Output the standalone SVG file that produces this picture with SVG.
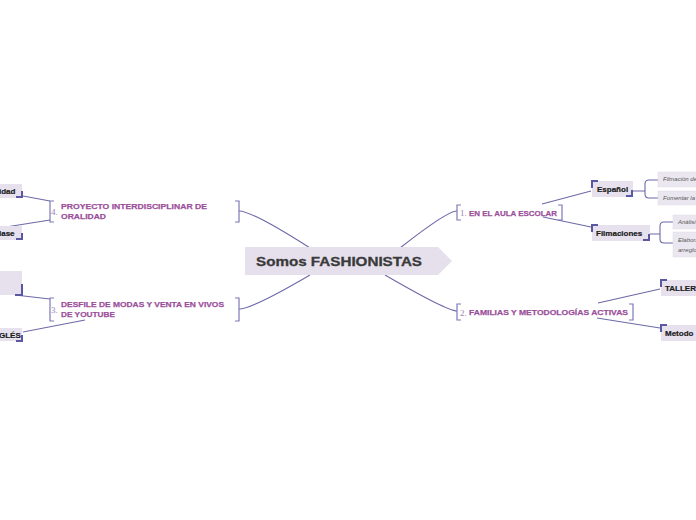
<svg xmlns="http://www.w3.org/2000/svg" width="696" height="520" viewBox="0 0 696 520">
<style>
.con{fill:none;stroke:#6d69a8;stroke-width:1.1}
.brk{fill:none;stroke:#7d79b6;stroke-width:1.2}
.cor{fill:none;stroke:#5b58a3;stroke-width:2}
.box{fill:#e7e1ee}
.leaf{fill:#ebe7f0;stroke:#e0dbe8;stroke-width:0.5}
.mt{font-family:"Liberation Sans",Arial,sans-serif;font-weight:bold;font-size:8px;fill:#9b4f9b;stroke:#9b4f9b;stroke-width:0.25}
.num{font-family:"Liberation Serif","Times New Roman",serif;font-size:9px;fill:#9a86b4}
.st{font-family:"Liberation Sans",Arial,sans-serif;font-weight:bold;font-size:8px;fill:#1a1a1a;stroke:#1a1a1a;stroke-width:0.2}
.lt{font-family:"Liberation Sans",Arial,sans-serif;font-style:italic;font-size:6px;fill:#555}
</style>
<rect width="696" height="520" fill="#ffffff"/>
<g id="connectors">
<path class="con" d="M239,211 Q252,211 310,248"/>
<path class="con" d="M239,309 Q252,309 310,275"/>
<path class="con" d="M457,211 Q447,211 400,248"/>
<path class="con" d="M457,311 Q447,311 385,275"/>
<path class="con" d="M542,204 L591,191"/>
<path class="con" d="M543,217 L591,227"/>
<path class="con" d="M598,303 L660,289"/>
<path class="con" d="M597,318 L660,328"/>
<path class="con" d="M23,196 L50,201"/>
<path class="con" d="M50,220 L6,227"/>
<path class="con" d="M15,295 L50,299"/>
<path class="con" d="M23,332 L85,320"/>
<path class="con" d="M633,191 L645,191 M658,180 L649,180 Q645,180 645,184 L645,194 Q645,198 649,198 L658,198"/>
<path class="con" d="M650,234 L660,234 M673,222 L664,222 Q660,222 660,226 L660,239 Q660,243 664,243 L673,243"/>
</g>
<g id="center">
<path d="M245,247 L438,247 L452,261 L438,275 L245,275 Z" fill="#e6e0ec"/>
<text x="256" y="265.5" font-family="'Liberation Sans',Arial,sans-serif" font-weight="bold" font-size="12.5" fill="#3a3a3a" stroke="#3a3a3a" stroke-width="0.3" textLength="166" lengthAdjust="spacingAndGlyphs">Somos FASHIONISTAS</text>
</g>
<g id="node1">
<path class="brk" d="M461,205 L457,205 L457,220 L461,220 M558,205 L562,205 L562,220 L558,220"/>
<text class="num" x="460" y="216">1.</text>
<text class="mt" x="469" y="215.5" textLength="88" lengthAdjust="spacingAndGlyphs">EN EL AULA ESCOLAR</text>
</g>
<g id="node2">
<path class="brk" d="M461,304 L457,304 L457,320 L461,320 M629,304 L633,304 L633,320 L629,320"/>
<text class="num" x="460" y="316">2.</text>
<text class="mt" x="469" y="315" textLength="159" lengthAdjust="spacingAndGlyphs">FAMILIAS Y METODOLOGÍAS ACTIVAS</text>
</g>
<g id="node4">
<path class="brk" d="M54,201 L50,201 L50,222 L54,222 M235,201 L239,201 L239,222 L235,222"/>
<text class="num" x="51" y="215">4.</text>
<text class="mt" x="61" y="209" textLength="146" lengthAdjust="spacingAndGlyphs">PROYECTO INTERDISCIPLINAR DE</text>
<text class="mt" x="61" y="219" textLength="45" lengthAdjust="spacingAndGlyphs">ORALIDAD</text>
</g>
<g id="node3">
<path class="brk" d="M54,298 L50,298 L50,321 L54,321 M235,298 L239,298 L239,321 L235,321"/>
<text class="num" x="51" y="313">3.</text>
<text class="mt" x="61" y="307" textLength="163" lengthAdjust="spacingAndGlyphs">DESFILE DE MODAS Y VENTA EN VIVOS</text>
<text class="mt" x="61" y="317" textLength="54" lengthAdjust="spacingAndGlyphs">DE YOUTUBE</text>
</g>
<g id="espanol">
<rect class="box" x="592" y="181" width="41" height="16"/>
<path class="cor" d="M592,188 L592,181 L598,181 M626,196 L632,196 L632,190"/>
<text class="st" x="597" y="192">Español</text>
</g>
<g id="filmaciones">
<rect class="box" x="592" y="225" width="58" height="16"/>
<path class="cor" d="M592,232 L592,225 L598,225 M643,240 L649,240 L649,234"/>
<text class="st" x="596" y="236">Filmaciones</text>
</g>
<g id="leaf-filmacion">
<rect class="leaf" x="658" y="172" width="40" height="15"/>
<text class="lt" x="663" y="181">Filmación de</text>
</g>
<g id="leaf-fomentar">
<rect class="leaf" x="658" y="191" width="40" height="14"/>
<text class="lt" x="663" y="200">Fomentar la</text>
</g>
<g id="leaf-analisis">
<rect class="leaf" x="673" y="215" width="25" height="14"/>
<text class="lt" x="678" y="224">Análisi</text>
</g>
<g id="leaf-elabora">
<rect class="leaf" x="673" y="232" width="25" height="25"/>
<text class="lt" x="678" y="241.5">Elabora</text>
<text class="lt" x="678" y="252">arreglo</text>
</g>
<g id="taller">
<rect class="box" x="661" y="280" width="37" height="16"/>
<path class="cor" d="M661,287 L661,280 L667,280"/>
<text class="st" x="665" y="291">TALLER</text>
</g>
<g id="metodo">
<rect class="box" x="661" y="325" width="37" height="16"/>
<path class="cor" d="M661,332 L661,325 L667,325"/>
<text class="st" x="665" y="336">Metodo</text>
</g>
<g id="idad">
<rect class="box" x="-2" y="184" width="24" height="14"/>
<path class="cor" d="M16,197 L22,197 L22,191"/>
<text class="st" x="-1" y="194">idad</text>
</g>
<g id="lase">
<rect class="box" x="-2" y="226" width="24" height="14"/>
<path class="cor" d="M16,239 L22,239 L22,233"/>
<text class="st" x="-1" y="236">lase</text>
</g>
<g id="empty-box">
<rect class="box" x="-2" y="271" width="24" height="24"/>
<path class="cor" d="M15,295 L22,295 L22,284"/>
</g>
<g id="gles">
<rect class="box" x="-2" y="328" width="24" height="13"/>
<path class="cor" d="M16,341 L22,341 L22,335"/>
<text class="st" x="-1" y="338" font-size="7">GLÉS</text>
</g>
</svg>
